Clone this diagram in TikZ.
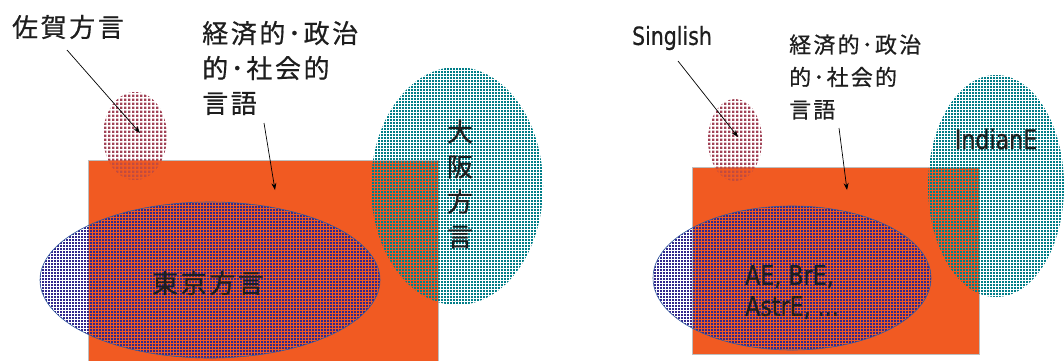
\documentclass[tikz,border=0pt]{standalone}
\usepackage{fontspec}
\newfontfamily\jp[LetterSpace=10,FakeBold=0.6]{Noto Sans CJK JP}
\newfontfamily\lat[FakeStretch=0.82,FakeBold=0.6]{DejaVu Sans}
\usetikzlibrary{patterns,arrows.meta}
\pgfdeclarepatternformonly{sqA}{\pgfpointorigin}{\pgfqpoint{3pt}{3pt}}{\pgfqpoint{3pt}{3pt}}{\pgfpathrectangle{\pgfpointorigin}{\pgfqpoint{2.4pt}{2.4pt}}\pgfusepath{fill}}
\pgfdeclarepatternformonly{sqB}{\pgfpointorigin}{\pgfqpoint{4pt}{4pt}}{\pgfqpoint{4pt}{4pt}}{\pgfpathrectangle{\pgfpointorigin}{\pgfqpoint{3pt}{3pt}}\pgfusepath{fill}}
\definecolor{orng}{RGB}{241,90,34}
\definecolor{tealc}{RGB}{0,125,135}
\definecolor{navyc}{RGB}{48,40,140}
\definecolor{sagac}{RGB}{160,65,85}
\definecolor{tokline}{RGB}{50,90,160}
\definecolor{rectgray}{RGB}{190,190,190}
\definecolor{ink}{RGB}{30,30,30}
\begin{document}
\begin{tikzpicture}[x=1pt,y=-1pt,
  lbl/.style={inner sep=0pt, text=ink},
  jpbig/.style={font=\jp\fontsize{26pt}{35pt}\selectfont},
  jpsmall/.style={font=\jp\fontsize{22pt}{32.5pt}\selectfont},
  latbig/.style={font=\lat\fontsize{27pt}{31pt}\selectfont},
  arr/.style={draw=black, line width=0.7pt, -{Stealth[length=7pt,width=5pt]}},
  panel/.style={fill=orng, draw=rectgray, line width=0.8pt},
  tealfill/.style={pattern=sqA, pattern color=tealc},
  navyfill/.style={pattern=sqA, pattern color=navyc},
  sagafill/.style={pattern=sqB, pattern color=sagac},
  fade/.style={fill=orng, opacity=0.4},
  outline/.style={draw=tokline, line width=0.6pt}
]
\useasboundingbox (0,0) rectangle (1064,360);

% ---------- left panel ----------
\path[panel] (88,160) rectangle (438,364);
\fill[tealfill] (457,186) ellipse [x radius=86, y radius=119];
\fill[navyfill] (210,280) ellipse [x radius=170, y radius=78];
\draw[outline] (210,280) ellipse [x radius=170, y radius=78];
\fill[sagafill] (135,136) ellipse [x radius=32, y radius=44];
\begin{scope}
  \clip (88,160) rectangle (438,364);
  \fill[fade] (135,136) ellipse [x radius=32, y radius=44];
\end{scope}

\node[lbl, jpbig] (saga) at (68,27) {佐賀方言};
\node[lbl, jpbig, align=left, anchor=west] (econL) at (202,68) {経済的･政治\\的･社会的\\言語};
\node[lbl, jpbig] (tokyo) at (208,283) {東京方言};
\node[lbl, jpbig, align=center] (osaka) at (460,184) {大\\阪\\方\\言};

\coordinate (sagaA) at (67,50);
\coordinate (sagaB) at (140,133);
\coordinate (econLA) at (264,123);
\coordinate (econLB) at (275,190);
\draw[arr] (sagaA) -- (sagaB);
\draw[arr] (econLA) -- (econLB);

% ---------- right panel ----------
\path[panel] (692,167) rectangle (979,354);
\fill[tealfill] (996,186) ellipse [x radius=68, y radius=111];
\fill[navyfill] (792,278) ellipse [x radius=139, y radius=72];
\draw[outline] (792,278) ellipse [x radius=139, y radius=72];
\fill[sagafill] (735,140) ellipse [x radius=27, y radius=41];
\begin{scope}
  \clip (692,167) rectangle (979,354);
  \fill[fade] (735,140) ellipse [x radius=27, y radius=41];
\end{scope}

\node[lbl, font=\lat\fontsize{25pt}{30pt}\selectfont] (singlish) at (672,38) {Singlish};
\node[lbl, jpsmall, align=left, anchor=west] (econR) at (789,77) {経済的･政治\\的･社会的\\言語};
\node[lbl, latbig] (indian) at (996,139) {IndianE};
\node[lbl, latbig, align=left, anchor=west] (ae) at (745,292) {AE, BrE,\\AstrE, ...};

\coordinate (singA) at (678,61);
\coordinate (singB) at (738,137);
\coordinate (econRA) at (839,128);
\coordinate (econRB) at (847,190);
\draw[arr] (singA) -- (singB);
\draw[arr] (econRA) -- (econRB);
\end{tikzpicture}
\end{document}
